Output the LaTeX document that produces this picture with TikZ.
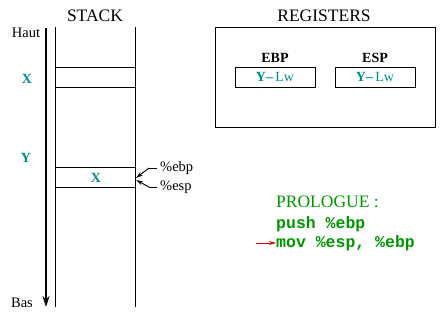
\documentclass[tikz,border=0pt]{standalone}
\usepackage{fontspec}
\setmainfont{Liberation Serif}
\setmonofont{Liberation Mono}
\usetikzlibrary{arrows.meta}
\definecolor{tealc}{RGB}{0,140,140}
\definecolor{greenc}{RGB}{0,150,0}
\definecolor{redc}{RGB}{220,0,0}
\begin{document}
\begin{tikzpicture}[x=1pt,y=-1pt,
  title/.style={inner sep=0pt,font=\fontsize{17.5}{20}\selectfont},
  lbl/.style={inner sep=0pt,font=\fontsize{14.5}{17}\selectfont},
  val/.style={inner sep=0pt,text=tealc,font=\bfseries\fontsize{14}{16}\selectfont},
  reg/.style={draw,line width=0.9pt,minimum width=80pt,minimum height=20pt,inner sep=0pt},
  code/.style={inner sep=0pt,anchor=west,text=greenc,font=\ttfamily\bfseries\fontsize{16.5}{19}\selectfont},
  ln/.style={line width=0.9pt},
  ptr/.style={line width=0.9pt,-{Stealth[length=7pt,width=4pt]}}]
\useasboundingbox (0,0) rectangle (446,320);
% stack
\node[title] (stacktitle) at (95,16) {STACK};
\coordinate (sl1) at (55,27); \coordinate (sl2) at (55,307);
\coordinate (sr1) at (135,27); \coordinate (sr2) at (135,307);
\draw[ln] (sl1) -- (sl2);
\draw[ln] (sr1) -- (sr2);
\coordinate (ha) at (46,28); \coordinate (hb) at (46,307);
\draw[line width=2.4pt,-{Stealth[length=11pt,width=7pt]}] (ha) -- (hb);
\node[lbl] (haut) at (26,33) {Haut};
\node[lbl] (bas) at (22,303) {Bas};
\coordinate (c1a) at (55,67); \coordinate (c1b) at (135,67);
\coordinate (c2a) at (55,87); \coordinate (c2b) at (135,87);
\draw[ln] (c1a) -- (c1b);
\draw[ln] (c2a) -- (c2b);
\coordinate (c3a) at (55,167); \coordinate (c3b) at (135,167);
\coordinate (c4a) at (55,187); \coordinate (c4b) at (135,187);
\draw[ln] (c3a) -- (c3b);
\draw[ln] (c4a) -- (c4b);
\node[val] (xl) at (27,79) {X};
\node[val] (yl) at (26,158) {Y};
\node[val] (xc) at (96,178) {X};
% pointers
\node[lbl,anchor=west] (ebp) at (160,168) {\%ebp};
\node[lbl,anchor=west] (esp) at (160,187) {\%esp};
\coordinate (e1) at (157,168); \coordinate (e2) at (149,168); \coordinate (et) at (136,178);
\coordinate (s1) at (157,187); \coordinate (s2) at (149,187); \coordinate (st) at (136,180);
\draw[ln] (e1) -- (e2);
\draw[ptr] (e2) -- (et);
\draw[ln] (s1) -- (s2);
\draw[ptr] (s2) -- (st);
% registers
\node[title] (regtitle) at (324,16) {REGISTERS};
\node[draw,line width=0.9pt,minimum width=220pt,minimum height=100pt,inner sep=0pt] (regbox) at (325,77) {};
\node[lbl,font=\bfseries\fontsize{14}{16}\selectfont] (ebpl) at (275,58) {EBP};
\node[lbl,font=\bfseries\fontsize{14}{16}\selectfont] (espl) at (375,58) {ESP};
\node[reg] (ebpbox) at (275,77) {};
\node[reg] (espbox) at (375,77) {};
\node[val] (ebpv) at (275,77) {Y\textendash\,\textmd{Lw}};
\node[val] (espv) at (375,77) {Y\textendash\,\textmd{Lw}};
% prologue
\node[inner sep=0pt,anchor=west,text=greenc,font=\fontsize{17.5}{20}\selectfont] (pro) at (276,202) {PROLOGUE :};
\node[code] (push) at (276,224) {push \%ebp};
\node[code] (mov) at (276,243) {mov \%esp, \%ebp};
\coordinate (ra) at (256,243);
\draw[redc,line width=0.9pt,-{Stealth[length=7pt,width=4pt]}] (ra) -- (mov.west);
\end{tikzpicture}
\end{document}
